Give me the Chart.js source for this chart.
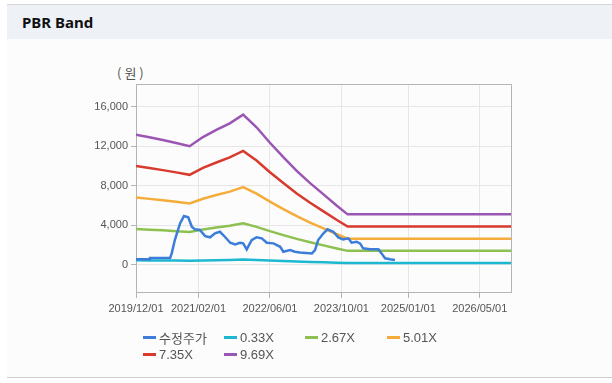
<!DOCTYPE html>
<html>
<head>
<meta charset="utf-8">
<script src="https://cdn.jsdelivr.net/npm/chart.js@4"></script>
<style>
  html, body { margin: 0; padding: 0; background: #ffffff; }
  #wrap { position: relative; width: 612px; height: 383px; overflow: hidden; background: #ffffff; }
  #topline { position: absolute; left: 7px; top: 4px; width: 605px; height: 1px; background: #d6d6d6; }
  #header { position: absolute; left: 7px; top: 5px; width: 605px; height: 34px; background: #eef2f7; }
  #title { position: absolute; left: 22px; top: 12px; font: bold 15px "Noto Sans", "Liberation Sans", sans-serif; color: #111; }
  #body { position: absolute; left: 7px; top: 39px; width: 605px; height: 338px; background: #fcfcfc; }
  #bottomline { position: absolute; left: 7px; top: 377px; width: 605px; height: 1px; background: #cfcfcf; }
  #unit { position: absolute; left: 117px; top: 63px; font: 13px "Noto Sans CJK KR", sans-serif; color: #555; letter-spacing: 3px; }
  #cv { position: absolute; left: 0; top: 40px; }
  #legend { position: absolute; left: 0; top: 0; width: 612px; height: 383px; pointer-events: none; }
  .lg { position: absolute; height: 16px; display: flex; align-items: center; font: 13px "Liberation Sans", Arial, sans-serif; color: #555; white-space: nowrap; }
  .lg .ln { display: inline-block; width: 13px; height: 3px; margin-right: 3px; }
  .lg .kr { font-family: "Noto Sans CJK KR", sans-serif; }
</style>
</head>
<body>
<div id="wrap">
  <div id="topline"></div>
  <div id="header"></div>
  <div id="title">PBR Band</div>
  <div id="body"></div>
  <div id="bottomline"></div>
  <div id="unit">(원)</div>
  <canvas id="cv" width="612" height="300"></canvas>
  <div id="legend"></div>
</div>
<script>
// ---- data ----
const seriesNames = ['수정주가', '0.33X', '2.67X', '5.01X', '7.35X', '9.69X'];
const seriesColors = ['#3b7dd8', '#1cb8d2', '#8dc050', '#f4ac3a', '#d83a2e', '#9a56b2'];

const xTickDates = ['2019/12/01', '2021/02/01', '2022/06/01', '2023/10/01', '2025/01/01', '2026/05/01'];
const xStart = '2019/12/01';
const xEnd = '2026/12/01';
const yTicks = [0, 4000, 8000, 12000, 16000];
const yMin = -2760;
const yMax = 18300;

const bandDates = ['2019/12/01', '2020/03/01', '2020/06/01', '2020/09/01', '2020/12/01', '2021/03/01', '2021/06/01',
  '2021/09/01', '2021/12/01', '2022/03/01', '2022/06/01', '2022/09/01', '2022/12/01', '2023/03/01', '2023/06/01',
  '2023/09/01', '2023/11/13', '2026/12/01'];
const band033 = [449, 439, 430, 420, 409, 440, 465, 488, 540, 474, 421, 371, 324, 282, 243, 203, 174, 174];
const band267 = [3628, 3554, 3480, 3397, 3306, 3562, 3761, 3945, 4188, 3835, 3402, 3003, 2617, 2277, 1962, 1645, 1405, 1405];
const band501 = [6809, 6669, 6530, 6375, 6204, 6685, 7057, 7403, 7858, 7197, 6385, 5635, 4912, 4273, 3681, 3086, 2637, 2637];
const band735 = [9989, 9785, 9580, 9352, 9102, 9807, 10353, 10862, 11529, 10558, 9367, 8268, 7206, 6269, 5400, 4528, 3868, 3868];
const band969 = [13170, 12900, 12630, 12330, 12000, 12930, 13650, 14320, 15200, 13920, 12350, 10900, 9500, 8265, 7120, 5970, 5100, 5100];

const priceDates = ['2019/12/01', '2020/03/01', '2020/03/05', '2020/07/20', '2020/08/01', '2020/08/22', '2020/09/27',
  '2020/10/23', '2020/11/22', '2020/12/16', '2021/01/07', '2021/02/10', '2021/03/16', '2021/04/19', '2021/05/22',
  '2021/06/25', '2021/07/28', '2021/09/04', '2021/10/07', '2021/11/10', '2021/12/01', '2021/12/25', '2022/01/28',
  '2022/03/01', '2022/04/06', '2022/05/10', '2022/06/25', '2022/08/10', '2022/09/01', '2022/10/16', '2022/11/19',
  '2022/12/22', '2023/03/13', '2023/04/04', '2023/04/25', '2023/06/01', '2023/06/28', '2023/08/07', '2023/09/10',
  '2023/10/13', '2023/11/18', '2023/12/10', '2024/01/13', '2024/02/06', '2024/02/28', '2024/04/13', '2024/06/10',
  '2024/07/01', '2024/07/25', '2024/08/28', '2024/10/01'];
const priceValues = [550, 550, 680, 680, 1150, 2500, 4190,
  4930, 4800, 3850, 3585, 3515, 2900, 2775, 3180,
  3340, 2835, 2230, 2065, 2230, 2165, 1560, 2500,
  2780, 2670, 2230, 2165, 1820, 1315, 1490, 1315,
  1250, 1150, 1490, 2500, 3180, 3585, 3340, 2775,
  2570, 2670, 2230, 2330, 2165, 1660, 1560, 1560,
  1150, 650, 547, 475];

// ---- helpers ----
function monthIndex(s) {
  const [y, m, d] = s.split('/').map(Number);
  return (y - 2019) * 12 + (m - 12) + (d - 1) / 30;
}
function toPoints(dates, vals) {
  return dates.map((d, i) => ({ x: monthIndex(d), y: vals[i] }));
}

const seriesData = [
  toPoints(priceDates, priceValues),
  toPoints(bandDates, band033),
  toPoints(bandDates, band267),
  toPoints(bandDates, band501),
  toPoints(bandDates, band735),
  toPoints(bandDates, band969)
];

const boxPlugin = {
  id: 'box',
  afterDraw(chart) {
    const a = chart.chartArea, ctx = chart.ctx;
    ctx.save();
    ctx.strokeStyle = '#b4b4b4';
    ctx.lineWidth = 1;
    ctx.beginPath();
    ctx.moveTo(a.left, a.top + 0.5);
    ctx.lineTo(a.right + 0.5, a.top + 0.5);
    ctx.lineTo(a.right + 0.5, a.bottom);
    ctx.stroke();
    ctx.restore();
  }
};

const chart = new Chart(document.getElementById('cv'), {
  type: 'line',
  data: {
    datasets: seriesNames.map((n, i) => ({
      label: n,
      data: seriesData[i],
      borderColor: seriesColors[i],
      backgroundColor: seriesColors[i],
      borderWidth: 2.5,
      pointRadius: 0,
      tension: 0,
      fill: false
    }))
  },
  options: {
    responsive: false,
    animation: false,
    events: [],
    layout: { padding: { left: 0, right: 101, top: 44, bottom: 0 } },
    plugins: { legend: { display: false }, tooltip: { enabled: false } },
    scales: {
      x: {
        type: 'linear',
        min: monthIndex(xStart),
        max: monthIndex(xEnd),
        afterBuildTicks: (s) => { s.ticks = xTickDates.map(d => ({ value: monthIndex(d) })); },
        afterFit: (s) => { s.height = 48; },
        ticks: {
          autoSkip: false, maxRotation: 0, padding: 4,
          color: '#555', font: { family: '"Liberation Sans", Arial, sans-serif', size: 11 },
          callback: (v, i) => xTickDates[i]
        },
        grid: { color: '#e6e6e6', tickColor: '#b4b4b4', tickLength: 6 },
        border: { color: '#b4b4b4' }
      },
      y: {
        min: yMin,
        max: yMax,
        afterBuildTicks: (s) => { s.ticks = yTicks.map(v => ({ value: v })); },
        afterFit: (s) => { s.width = 136; },
        ticks: {
          padding: 3,
          color: '#555', font: { family: '"Liberation Sans", Arial, sans-serif', size: 11 },
          callback: (v) => v.toLocaleString('en-US')
        },
        grid: { color: '#e6e6e6', tickColor: '#b4b4b4', tickLength: 5 },
        border: { color: '#b4b4b4' }
      }
    }
  },
  plugins: [boxPlugin]
});

// ---- legend (HTML, built from chart datasets) ----
const legendPos = [[143, 329], [224, 329], [305, 329], [387, 329], [143, 346], [224, 346]];
const lg = document.getElementById('legend');
chart.data.datasets.forEach((ds, i) => {
  const el = document.createElement('div');
  el.className = 'lg';
  el.style.left = legendPos[i][0] + 'px';
  el.style.top = legendPos[i][1] + 'px';
  const ln = document.createElement('span');
  ln.className = 'ln';
  ln.style.background = ds.borderColor;
  const tx = document.createElement('span');
  tx.textContent = ds.label;
  if (/[가-힣]/.test(ds.label)) tx.className = 'kr';
  el.appendChild(ln); el.appendChild(tx);
  lg.appendChild(el);
});
</script>
</body>
</html>
